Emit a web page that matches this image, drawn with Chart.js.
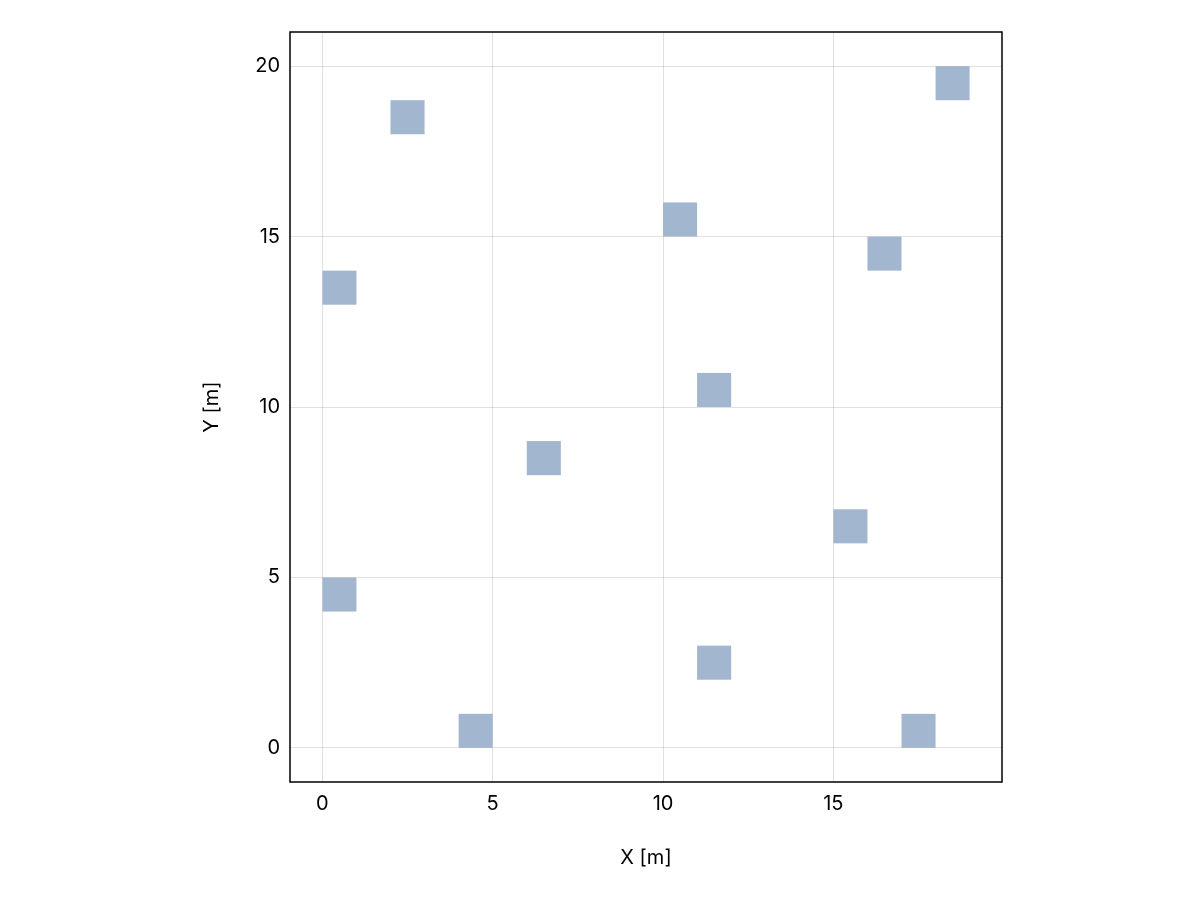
<!DOCTYPE html>
<html><head><meta charset="utf-8">
<script src="https://cdn.jsdelivr.net/npm/chart.js@4"></script>
<style>html,body{margin:0;padding:0;background:#fff}</style>
</head><body>
<div style="width:1200px;height:900px"><canvas id="c" width="1200" height="900"></canvas></div>
<script>
const cellX = [0, 4, 11, 17, 15, 6, 11, 0, 10, 16, 2, 18];
const cellY = [4, 0, 2, 0, 6, 8, 10, 13, 15, 14, 18, 19];
const xTicks = [0, 5, 10, 15];
const yTicks = [0, 5, 10, 15, 20];
const cellColor = '#a2b7cf';

const cellPlugin = {
  id: 'cells',
  beforeDatasetsDraw(chart) {
    const {ctx, scales: {x, y}} = chart;
    ctx.save();
    ctx.fillStyle = cellColor;
    for (let i = 0; i < cellX.length; i++) {
      const x0 = x.getPixelForValue(cellX[i]), x1 = x.getPixelForValue(cellX[i] + 1);
      const y0 = y.getPixelForValue(cellY[i]), y1 = y.getPixelForValue(cellY[i] + 1);
      ctx.fillRect(x0, y1, x1 - x0, y0 - y1);
    }
    ctx.restore();
  },
  afterDraw(chart) {
    const {ctx, chartArea: a} = chart;
    ctx.save();
    ctx.strokeStyle = '#000';
    ctx.lineWidth = 1.5;
    ctx.strokeRect(a.left, a.top, a.right - a.left, a.bottom - a.top);
    ctx.restore();
  }
};

const font = {family: 'Inter, "DejaVu Sans", sans-serif', size: 20};
new Chart(document.getElementById('c'), {
  type: 'scatter',
  data: {datasets: [{data: cellX.map((v, i) => ({x: v + 0.5, y: cellY[i] + 0.5})), pointRadius: 0}]},
  options: {
    responsive: false, animation: false,
    layout: {padding: {left: 200, top: 32, right: 198, bottom: 30}},
    plugins: {legend: {display: false}, tooltip: {enabled: false}},
    scales: {
      x: {
        type: 'linear', min: -0.95, max: 19.95,
        afterBuildTicks: s => { s.ticks = xTicks.map(v => ({value: v})); },
        afterFit: s => { s.height = 88; },
        grid: {color: 'rgba(0,0,0,0.12)', drawTicks: false},
        border: {display: false},
        ticks: {font, color: '#000', padding: 10, maxRotation: 0},
        title: {display: true, text: 'X [m]', font, color: '#000', padding: {top: 4, bottom: 0}}
      },
      y: {
        type: 'linear', min: -1, max: 21,
        afterBuildTicks: s => { s.ticks = yTicks.map(v => ({value: v})); },
        afterFit: s => { s.width = 90; },
        grid: {color: 'rgba(0,0,0,0.12)', drawTicks: false},
        border: {display: false},
        ticks: {font, color: '#000', padding: 10},
        title: {display: true, text: 'Y [m]', font, color: '#000', padding: {top: 0, bottom: 4}}
      }
    }
  },
  plugins: [cellPlugin]
});
</script>
</body></html>
